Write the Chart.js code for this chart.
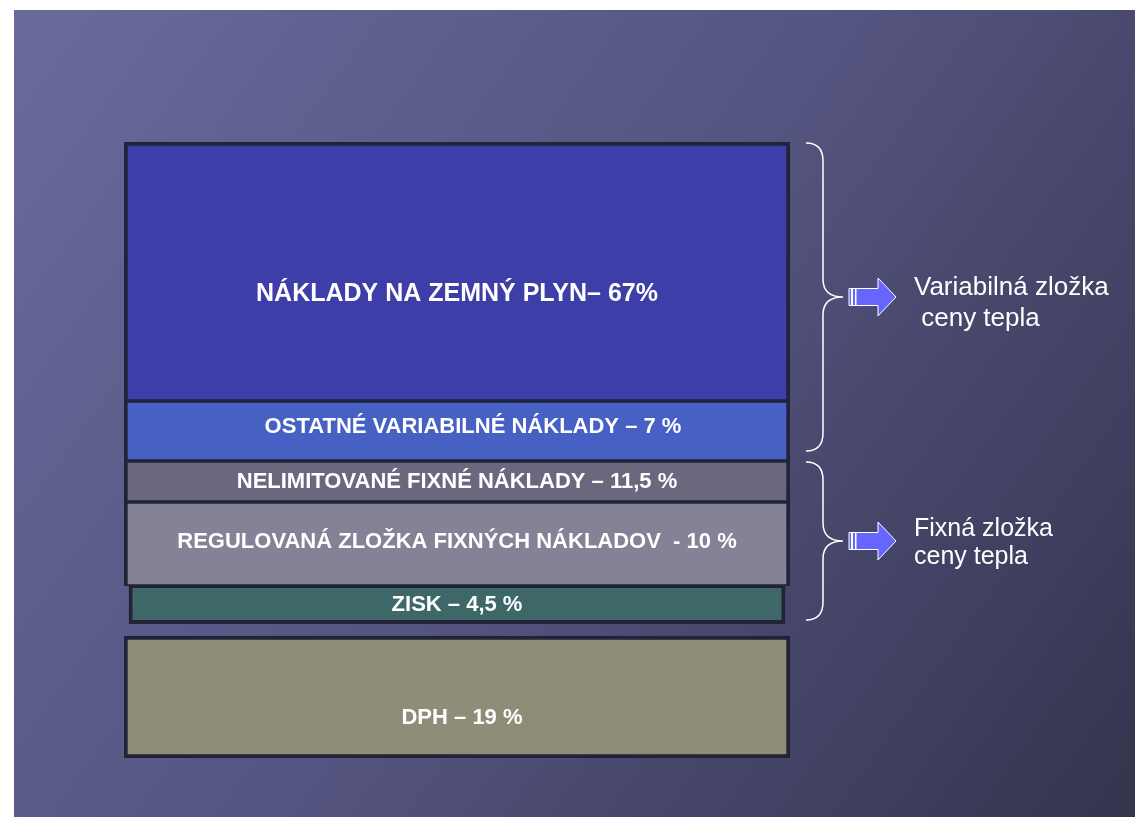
<!DOCTYPE html>
<html>
<head>
<meta charset="utf-8">
<script src="https://cdn.jsdelivr.net/npm/chart.js@4.4.1/dist/chart.umd.min.js"></script>
<style>
  html, body { margin: 0; padding: 0; background: #ffffff; }
  canvas { display: block; }
</style>
</head>
<body>
<canvas id="chart" width="1135" height="817"></canvas>
<script>
// rows of the price breakdown, top to bottom
const labels = [
    'NÁKLADY NA ZEMNÝ PLYN– 67%',
    'OSTATNÉ VARIABILNÉ NÁKLADY – 7 %',
    'NELIMITOVANÉ FIXNÉ NÁKLADY – 11,5 %',
    'REGULOVANÁ ZLOŽKA FIXNÝCH NÁKLADOV  - 10 %',
    'ZISK – 4,5 %',
    'DPH – 19 %'
];
const shares = [67, 7, 11.5, 10, 4.5, 19];

// the slide does not draw the rows to scale, these are the drawn row sizes
const rowHeight = [259, 60, 41, 84, 38, 122];
const rowGap = [0, 0, 0, 0, 0, 12];

const fills = ['#3e3ea8', '#4660c4', '#6a687e', '#848296', '#3e6868', '#8e8e78'];
const rowWidth = [1, 1, 1, 1, 0.986, 1];
const labelShift = [[0, 23], [16, -4], [0, 0], [0, -2], [0, 0], [5, 21]];
const labelSize = [25, 22, 22, 22, 22, 22];

// brackets on the right: first row, last row, text
const groups = [
    { from: 0, to: 1, lines: ['Variabilná zložka', ' ceny tepla'], dy: 6, size: 26, gap: 31, inset: 10 },
    { from: 2, to: 4, lines: ['Fixná zložka', 'ceny tepla'], dy: 2, size: 25, gap: 28, inset: 4 }
];

function onLoad() {
    let pos = 0;
    const datasets = labels.map(function(name, i) {
        const start = pos + rowGap[i];
        pos = start + rowHeight[i];
        const outerTop = i == 0 || rowGap[i] > 0;
        const outerBottom = i == labels.length - 1 || rowGap[i + 1] > 0;
        return {
            label: name,
            share: shares[i],
            data: [[start, pos]],
            backgroundColor: fills[i],
            borderColor: '#222238',
            borderWidth: { top: outerTop ? 4 : 2, bottom: outerBottom ? 4 : 2, left: 4, right: 4 },
            borderSkipped: false,
            grouped: false,
            barPercentage: rowWidth[i],
            categoryPercentage: 1
        };
    });

    const slideBackground = {
        id: 'slideBackground',
        beforeDraw: function(chart) {
            const ctx = chart.ctx;
            ctx.save();
            ctx.fillStyle = '#ffffff';
            ctx.fillRect(0, 0, chart.width, chart.height);
            const g = ctx.createLinearGradient(14, 10, chart.width, chart.height);
            g.addColorStop(0, '#6a6a9c');
            g.addColorStop(0.5, '#545480');
            g.addColorStop(1, '#34344e');
            ctx.fillStyle = g;
            ctx.fillRect(14, 10, chart.width - 14, chart.height - 10);
            ctx.restore();
        }
    };

    const rowLabels = {
        id: 'rowLabels',
        afterDatasetsDraw: function(chart) {
            const ctx = chart.ctx;
            ctx.save();
            ctx.fillStyle = '#ffffff';
            ctx.textAlign = 'center';
            ctx.textBaseline = 'middle';
            chart.data.datasets.forEach(function(ds, i) {
                const bar = chart.getDatasetMeta(i).data[0];
                ctx.font = 'bold ' + labelSize[i] + 'px "Liberation Sans", Arial, sans-serif';
                ctx.fillText(ds.label, bar.x + labelShift[i][0], (bar.y + bar.base) / 2 + labelShift[i][1]);
            });

            // braces, arrows and group captions
            groups.forEach(function(grp) {
                const a = chart.getDatasetMeta(grp.from).data[0];
                const b = chart.getDatasetMeta(grp.to).data[0];
                const top = Math.min(a.y, a.base) + 1;
                const bottom = Math.max(b.y, b.base) - grp.inset;
                const x = chart.chartArea.right + 33;
                const tip = (top + bottom) / 2;
                const r = 18;

                ctx.strokeStyle = '#ffffff';
                ctx.lineWidth = 1.5;
                ctx.beginPath();
                ctx.moveTo(x - 17, top);
                ctx.quadraticCurveTo(x, top, x, top + r);
                ctx.lineTo(x, tip - r);
                ctx.quadraticCurveTo(x, tip, x + 20, tip);
                ctx.quadraticCurveTo(x, tip, x, tip + r);
                ctx.lineTo(x, bottom - r);
                ctx.quadraticCurveTo(x, bottom, x - 17, bottom);
                ctx.stroke();

                const ax = x + 26;
                ctx.beginPath();
                ctx.moveTo(ax, tip - 8.5);
                ctx.lineTo(ax + 29, tip - 8.5);
                ctx.lineTo(ax + 29, tip - 19);
                ctx.lineTo(ax + 47, tip);
                ctx.lineTo(ax + 29, tip + 19);
                ctx.lineTo(ax + 29, tip + 8.5);
                ctx.lineTo(ax, tip + 8.5);
                ctx.closePath();
                ctx.fillStyle = '#6666ff';
                ctx.fill();
                ctx.lineWidth = 1;
                ctx.stroke();
                ctx.fillStyle = '#ffffff';
                ctx.fillRect(ax + 2, tip - 8.5, 2, 17);
                ctx.fillRect(ax + 6, tip - 8.5, 1.5, 17);

                ctx.font = grp.size + 'px "Liberation Sans", Arial, sans-serif';
                ctx.textAlign = 'left';
                grp.lines.forEach(function(line, k) {
                    ctx.fillText(line, ax + 65, tip + grp.dy + (k - 0.5) * grp.gap);
                });
                ctx.textAlign = 'center';
            });
            ctx.restore();
        }
    };

    new Chart(document.getElementById('chart'), {
        type: 'bar',
        data: { labels: [''], datasets: datasets },
        options: {
            responsive: false,
            animation: false,
            devicePixelRatio: 1,
            layout: { padding: { left: 124, right: 345, top: 142, bottom: 59 } },
            plugins: {
                legend: { display: false },
                tooltip: { enabled: false },
                title: { display: false }
            },
            scales: {
                x: { display: false },
                y: { display: false, reverse: true, min: 0, max: pos }
            }
        },
        plugins: [slideBackground, rowLabels]
    });
}

onLoad();
</script>
</body>
</html>
